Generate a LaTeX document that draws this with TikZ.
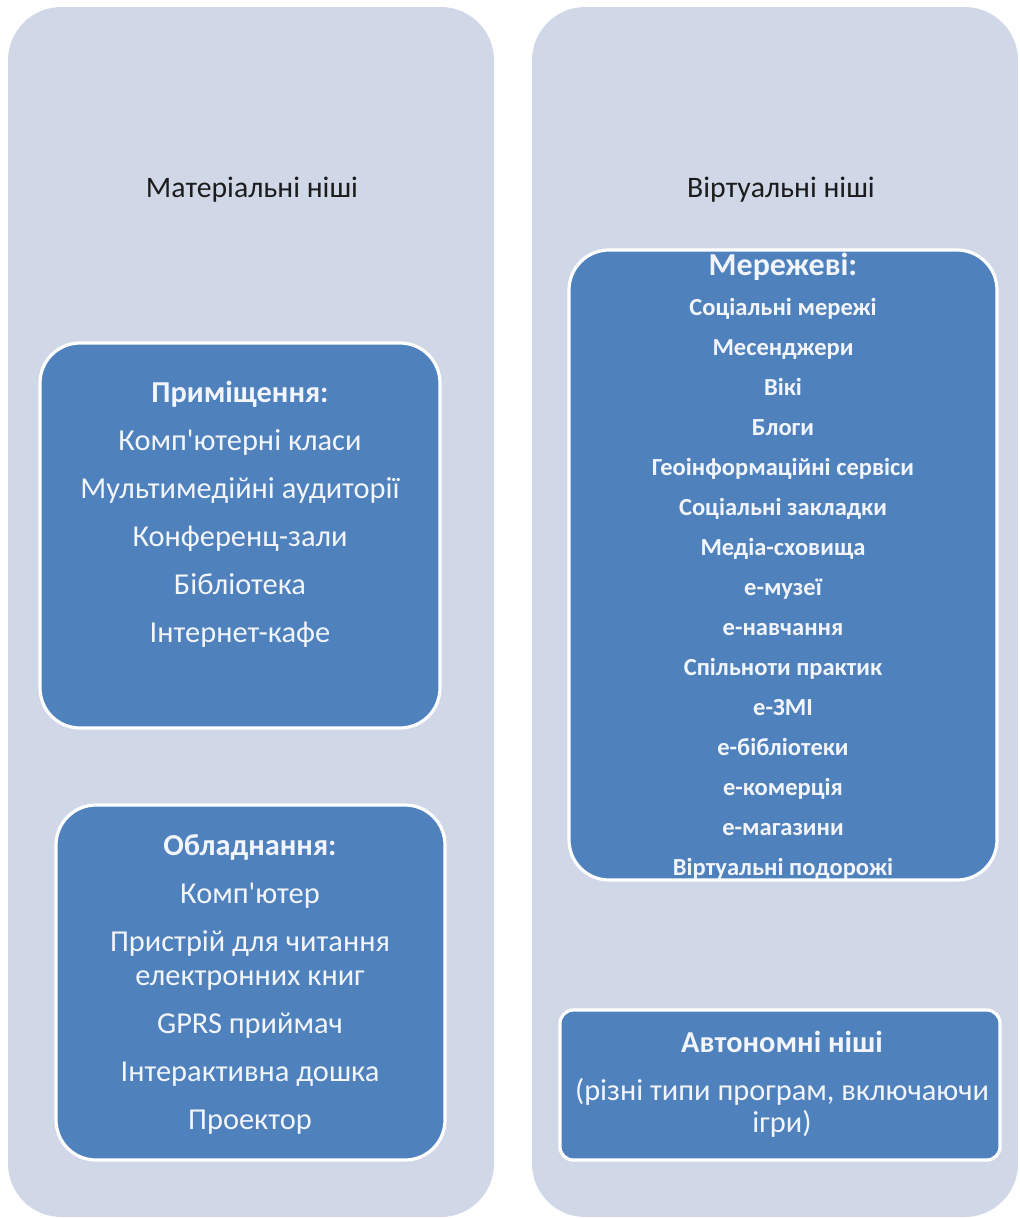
\documentclass[tikz,border=0pt]{standalone}
\usepackage{fontspec}
\setmainfont{Carlito}
\newfontfamily\plaincarlito{Carlito}
\newcommand{\apos}{{\plaincarlito'}}
\definecolor{panelbg}{HTML}{D0D8E7}
\definecolor{boxbg}{HTML}{4F81BD}
\definecolor{boxtxt}{HTML}{F2F5FB}
\definecolor{titletxt}{HTML}{1C1C1C}
\tikzset{
  panel/.style={fill=panelbg, draw=none, rounded corners=40pt},
  bluebox/.style={fill=boxbg, draw=white, line width=2.4pt},
  title/.style={text=titletxt, font=\fontsize{22.3pt}{26pt}\selectfont, inner sep=0pt},
  boxtext/.style={text=boxtxt, align=center, inner sep=0pt},
}
\begin{document}
\begin{tikzpicture}[x=0.75pt,y=-0.75pt]
\useasboundingbox (0,0) rectangle (1020,1218);
% panels
\draw[panel] (8,7) rectangle (494,1217);
\draw[panel] (532,7) rectangle (1018,1217);
\node[title] (t1) at (252,190) {Матеріальні ніші};
\node[title] (t2) at (781,190) {Віртуальні ніші};
% boxes
\draw[bluebox, rounded corners=30pt] (40,343) rectangle (440,728);
\draw[bluebox, rounded corners=30pt] (56,805) rectangle (445,1160);
\draw[bluebox, rounded corners=30pt] (569,250) rectangle (997,880);
\draw[bluebox, rounded corners=10pt] (560,1010) rectangle (1000,1160);
% texts
\node[boxtext, font=\fontsize{22.8pt}{36pt}\selectfont] (b1) at (240,514)
 {\textbf{Приміщення:}\\Комп\apos ютерні класи\\Мультимедійні аудиторії\\Конференц-зали\\Бібліотека\\Інтернет-кафе};
\node[boxtext, font=\fontsize{22.8pt}{36pt}\selectfont] (b2) at (250,984)
 {\textbf{Обладнання:}\\Комп\apos ютер\\Пристрій для читання\\[-10.5pt]електронних книг\\GPRS приймач\\Інтерактивна дошка\\Проектор};
\node[boxtext, font=\fontsize{18.4pt}{30pt}\selectfont\bfseries] (b3) at (783,566)
 {{\fontsize{24pt}{30pt}\selectfont Мережеві:}\\Соціальні мережі\\Месенджери\\Вікі\\Блоги\\Геоінформаційні сервіси\\Соціальні закладки\\Медіа-сховища\\е-музеї\\е-навчання\\Спільноти практик\\е-ЗМІ\\е-бібліотеки\\е-комерція\\е-магазини\\Віртуальні подорожі};
\node[boxtext, font=\fontsize{22.8pt}{24pt}\selectfont] (b4) at (782,1084)
 {\textbf{Автономні ніші}\\[12pt](різні типи програм, включаючи\\ігри)};
\end{tikzpicture}
\end{document}
